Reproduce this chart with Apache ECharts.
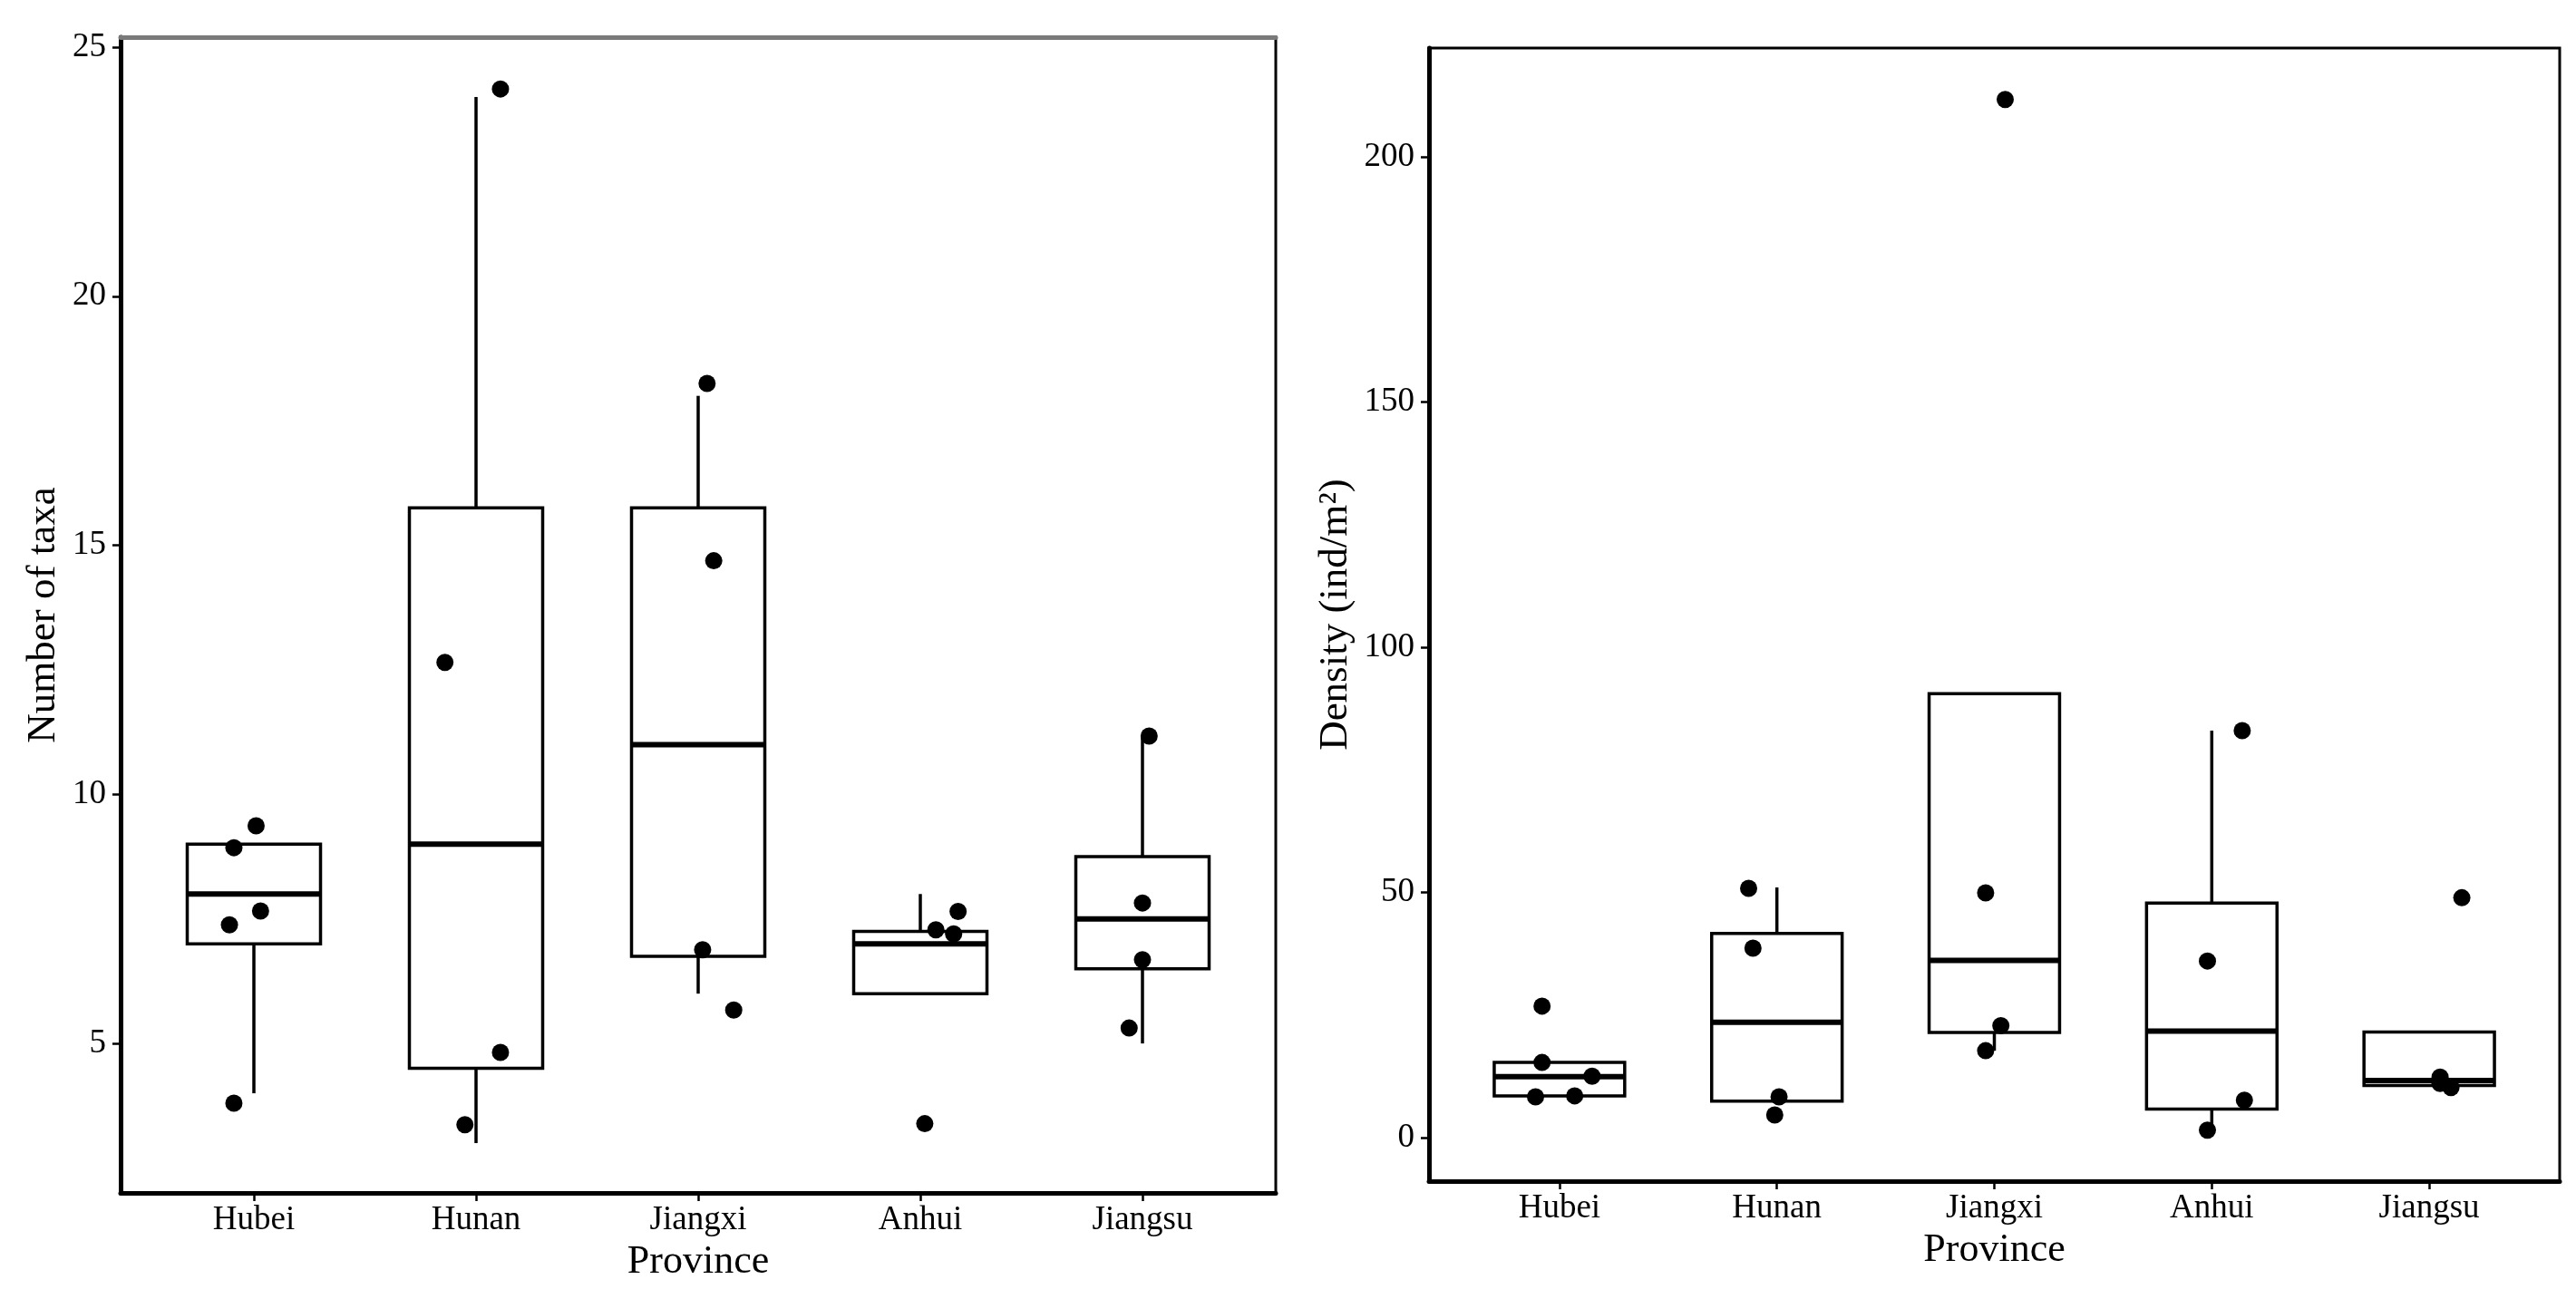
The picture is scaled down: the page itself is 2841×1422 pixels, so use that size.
<!DOCTYPE html>
<html>
<head>
<meta charset="utf-8">
<script src="https://cdn.jsdelivr.net/npm/echarts@6/dist/echarts.min.js"></script>
<style>
    html, body {margin: 0; padding: 0; background: #fff;}
    #main {width: 2841px; height: 1422px;}
</style>
</head>
<body>
<div id="main"></div>
<script>
const provinces = ['Hubei', 'Hunan', 'Jiangxi', 'Anhui', 'Jiangsu'];

// boxes: [lower whisker, Q1, median, Q3, upper whisker]
const taxaBoxes = [
    [4, 7, 8, 9, 9],
    [3, 4.5, 9, 15.75, 24],
    [6, 6.75, 11, 15.75, 18],
    [6, 6, 7, 7.25, 8],
    [5, 6.5, 7.5, 8.75, 11.15]
];
// jittered points: [x position on province scale, value]
const taxaPoints = [
    [1.01, 9.37], [0.91, 8.93], [1.03, 7.66], [0.89, 7.38], [0.91, 3.80],
    [2.11, 24.16], [1.86, 12.65], [2.11, 4.82], [1.95, 3.37],
    [3.04, 18.25], [3.07, 14.69], [3.02, 6.88], [3.16, 5.67],
    [4.07, 7.28], [4.17, 7.65], [4.15, 7.2], [4.02, 3.39],
    [5.03, 11.17], [5.00, 7.82], [5.00, 6.68], [4.94, 5.31]
];
const densityBoxes = [
    [8.5, 8.5, 12.4, 15.3, 15.3],
    [7.4, 7.4, 23.5, 41.6, 51],
    [17.7, 21.4, 36.1, 90.5, 90.5],
    [1.8, 5.8, 21.7, 47.8, 83],
    [10.6, 10.6, 11.6, 21.5, 21.5]
];
const densityPoints = [
    [0.92, 26.8], [0.92, 15.3], [1.15, 12.5], [0.89, 8.3], [1.07, 8.5],
    [1.87, 50.8], [1.89, 38.6], [2.01, 8.3], [1.99, 4.6],
    [3.05, 211.7], [2.96, 49.9], [3.03, 22.8], [2.96, 17.7],
    [4.14, 83.0], [3.98, 36.0], [4.15, 7.6], [3.98, 1.5],
    [5.15, 48.9], [5.05, 12.3], [5.05, 11.0], [5.10, 10.2]
];
const provinceTicks = [1, 2, 3, 4, 5];
const taxaTicks = [5, 10, 15, 20, 25];
const densityTicks = [0, 50, 100, 150, 200];

const FONT = '"Liberation Serif", "Times New Roman", serif';
const BOX_W = 0.6;

function boxItems(boxes) {
    return boxes.map((b, i) => [i + 1].concat(b));
}

function renderBox(params, api) {
    const x = api.value(0);
    const lo = api.coord([x, api.value(1)]);
    const q1 = api.coord([x, api.value(2)]);
    const med = api.coord([x, api.value(3)]);
    const q3 = api.coord([x, api.value(4)]);
    const hi = api.coord([x, api.value(5)]);
    const half = api.size([BOX_W, 0])[0] / 2;
    const line = {stroke: '#000', lineWidth: 3.5};
    const children = [];
    if (api.value(5) > api.value(4)) {
        children.push({type: 'line', shape: {x1: q3[0], y1: q3[1], x2: hi[0], y2: hi[1]}, style: line});
    }
    if (api.value(1) < api.value(2)) {
        children.push({type: 'line', shape: {x1: q1[0], y1: q1[1], x2: lo[0], y2: lo[1]}, style: line});
    }
    children.push({
        type: 'rect',
        shape: {x: q3[0] - half, y: q3[1], width: half * 2, height: q1[1] - q3[1]},
        style: {fill: '#fff', stroke: '#000', lineWidth: 3.5}
    });
    children.push({
        type: 'line',
        shape: {x1: med[0] - half, y1: med[1], x2: med[0] + half, y2: med[1]},
        style: {stroke: '#000', lineWidth: 6}
    });
    return {type: 'group', children: children};
}

function provinceAxis(gridIndex) {
    return {
        type: 'value', gridIndex: gridIndex, min: 0.4, max: 5.6,
        name: 'Province', nameLocation: 'middle', nameGap: 54,
        nameTextStyle: {fontSize: 44, color: '#000', fontFamily: FONT},
        axisLine: {show: true, onZero: false, lineStyle: {color: '#000', width: 5}},
        axisTick: {show: true, customValues: provinceTicks, length: 9, lineStyle: {color: '#000', width: 2.5}},
        axisLabel: {
            customValues: provinceTicks,
            formatter: v => provinces[Math.round(v) - 1],
            fontSize: 37, color: '#000', fontFamily: FONT, margin: 12
        },
        splitLine: {show: false}
    };
}

function valueAxis(gridIndex, min, max, ticks, name, gap) {
    return {
        type: 'value', gridIndex: gridIndex, min: min, max: max,
        name: name, nameLocation: 'middle', nameRotate: 90, nameGap: gap,
        nameTextStyle: {fontSize: 45, color: '#000', fontFamily: FONT},
        axisLine: {show: true, onZero: false, lineStyle: {color: '#000', width: 5}},
        axisTick: {show: true, customValues: ticks, length: 9, lineStyle: {color: '#000', width: 2.5}},
        axisLabel: {customValues: ticks, fontSize: 37, color: '#000', fontFamily: FONT, margin: 16},
        splitLine: {show: false}
    };
}

const chart = echarts.init(document.getElementById('main'), null, {renderer: 'canvas'});

const option = {
    backgroundColor: '#fff',
    animation: false,
    grid: [
        {left: 133, top: 41, width: 1274, height: 1275, show: true, borderColor: '#000', borderWidth: 3},
        {left: 1576, top: 53, width: 1247, height: 1250, show: true, borderColor: '#000', borderWidth: 3}
    ],
    xAxis: [
        provinceAxis(0),
        provinceAxis(1),
        {
            type: 'value', gridIndex: 0, position: 'top', min: 0.4, max: 5.6,
            axisLine: {show: true, lineStyle: {color: '#7a7a7a', width: 5}},
            axisTick: {show: false}, axisLabel: {show: false}, splitLine: {show: false}
        }
    ],
    yAxis: [
        valueAxis(0, 2.0, 25.2, taxaTicks, 'Number of taxa', 62),
        valueAxis(1, -8.9, 222.2, densityTicks, 'Density (ind/m²)', 80)
    ],
    series: [
        {
            type: 'custom', xAxisIndex: 0, yAxisIndex: 0,
            renderItem: renderBox, data: boxItems(taxaBoxes),
            encode: {x: 0, y: [1, 2, 3, 4, 5]}, z: 2
        },
        {
            type: 'custom', xAxisIndex: 1, yAxisIndex: 1,
            renderItem: renderBox, data: boxItems(densityBoxes),
            encode: {x: 0, y: [1, 2, 3, 4, 5]}, z: 2
        },
        {
            type: 'scatter', xAxisIndex: 0, yAxisIndex: 0, data: taxaPoints,
            symbolSize: 19, itemStyle: {color: '#000', opacity: 1}, z: 3
        },
        {
            type: 'scatter', xAxisIndex: 1, yAxisIndex: 1, data: densityPoints,
            symbolSize: 19, itemStyle: {color: '#000', opacity: 1}, z: 3
        }
    ]
};

chart.setOption(option);
</script>
</body>
</html>
